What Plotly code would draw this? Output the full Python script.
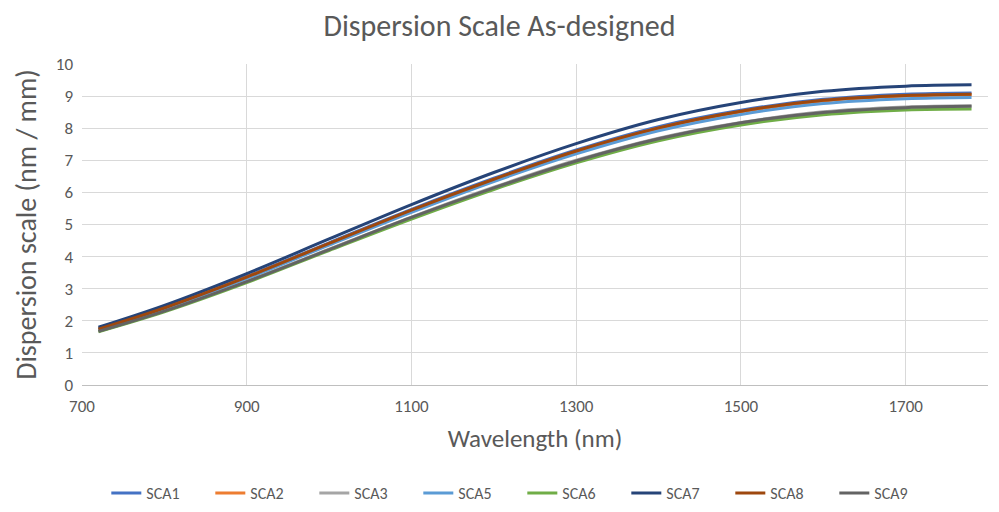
import plotly.graph_objects as go

wavelength = [720, 800, 900, 1000, 1100, 1200, 1300, 1400, 1500, 1600, 1700, 1780]

sca1 = [1.75, 2.41, 3.38, 4.43, 5.47, 6.44, 7.32, 8.05, 8.56, 8.90, 9.06, 9.10]
sca2 = [1.74, 2.40, 3.36, 4.40, 5.43, 6.40, 7.27, 8.00, 8.51, 8.85, 9.00, 9.04]
sca3 = [1.67, 2.31, 3.23, 4.23, 5.23, 6.16, 7.00, 7.69, 8.18, 8.51, 8.66, 8.70]
sca5 = [1.72, 2.38, 3.32, 4.36, 5.38, 6.34, 7.20, 7.92, 8.43, 8.77, 8.92, 8.96]
sca6 = [1.66, 2.28, 3.19, 4.19, 5.17, 6.09, 6.92, 7.61, 8.10, 8.42, 8.57, 8.60]
sca7 = [1.80, 2.48, 3.47, 4.55, 5.62, 6.62, 7.52, 8.27, 8.80, 9.15, 9.31, 9.35]
sca8 = [1.74, 2.40, 3.36, 4.41, 5.45, 6.41, 7.29, 8.01, 8.53, 8.87, 9.02, 9.06]
sca9 = [1.67, 2.30, 3.22, 4.22, 5.22, 6.14, 6.98, 7.67, 8.17, 8.49, 8.64, 8.68]

series_names = ["SCA1", "SCA2", "SCA3", "SCA5", "SCA6", "SCA7", "SCA8", "SCA9"]
series_values = [sca1, sca2, sca3, sca5, sca6, sca7, sca8, sca9]
colors = ["#4472C4", "#ED7D31", "#A5A5A5", "#5B9BD5", "#70AD47", "#264478", "#9E480E", "#636363"]

FONT = "Carlito, Lato, Noto Sans, sans-serif"
GREY = "#595959"

fig = go.Figure()
for name, vals, col in zip(series_names, series_values, colors):
    fig.add_trace(go.Scatter(
        x=wavelength, y=vals, name=name, mode="lines",
        line=dict(color=col, width=3, shape="spline", smoothing=1.0),
    ))

fig.update_layout(
    width=983, height=496,
    paper_bgcolor="white", plot_bgcolor="white",
    margin=dict(l=74, r=3, t=56, b=119, autoexpand=False),
    font=dict(family=FONT, color=GREY, size=17),
    title=dict(text="Dispersion Scale As-designed", x=0.5, xanchor="center",
               y=0.964, yanchor="middle",
               font=dict(size=30, color=GREY, family=FONT)),
    showlegend=True,
    legend=dict(orientation="h", x=0.486, xanchor="center",
                yref="container", y=0.022, yanchor="middle",
                font=dict(size=16, color=GREY),
                entrywidth=59, entrywidthmode="pixels", traceorder="normal"),
)
fig.update_xaxes(
    range=[700, 1800], tick0=700, dtick=200,
    showgrid=True, gridcolor="#D9D9D9", gridwidth=1,
    showline=True, linecolor="#BFBFBF", linewidth=1,
    zeroline=False, ticks="", ticklabelstandoff=6,
    tickfont=dict(size=17, color=GREY),
    title=dict(text="Wavelength (nm)", font=dict(size=25, color=GREY), standoff=13),
)
fig.update_yaxes(
    range=[0, 10], dtick=1,
    showgrid=True, gridcolor="#D9D9D9", gridwidth=1,
    showline=False, zeroline=False, ticks="", ticklabelstandoff=8,
    tickfont=dict(size=17, color=GREY),
    title=dict(text="Dispersion scale (nm / mm)", font=dict(size=28, color=GREY), standoff=10),
)

fig.write_html("out.html")
